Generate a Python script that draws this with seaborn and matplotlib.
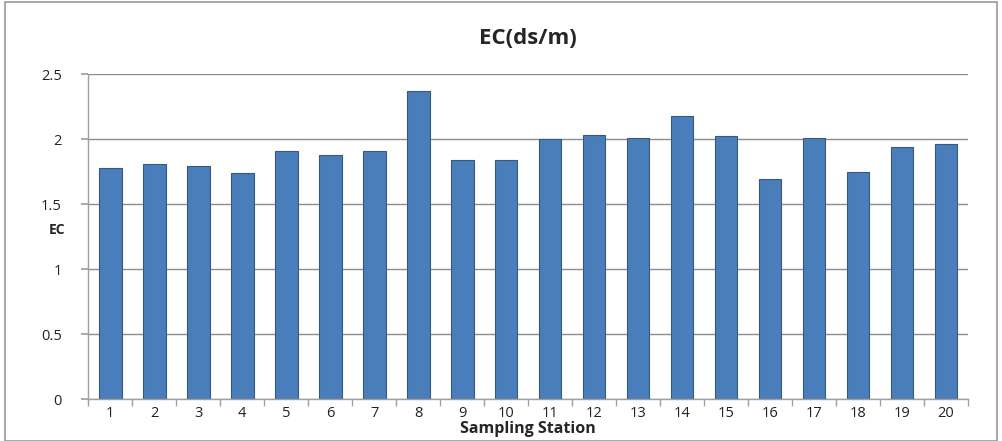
import matplotlib
matplotlib.use("Agg")
import matplotlib.pyplot as plt
import seaborn as sns
import pandas as pd
import numpy as np
from matplotlib.patches import Rectangle

stations = [str(i) for i in range(1, 21)]
ec_values = [1.78, 1.81, 1.79, 1.74, 1.91, 1.88, 1.91, 2.37, 1.84, 1.84,
             2.00, 2.03, 2.01, 2.18, 2.02, 1.69, 2.01, 1.75, 1.94, 1.96]
y_ticks = [0, 0.5, 1, 1.5, 2, 2.5]
y_tick_labels = ["0", "0.5", "1", "1.5", "2", "2.5"]

df = pd.DataFrame({"Sampling Station": stations, "EC": ec_values})

sns.set_theme(style="white")
plt.rcParams['font.family'] = ['Open Sans', 'DejaVu Sans']

fig = plt.figure(figsize=(10.02, 4.41), dpi=100)
ax = fig.add_axes([0.088, 0.095, 0.878, 0.737])

sns.barplot(data=df, x="Sampling Station", y="EC", color="#4a7ebb",
            width=0.52, edgecolor="#35597f", linewidth=0.8, saturation=1, ax=ax)

ax.set_ylim(0, 2.5)
ax.set_xlim(-0.5, 19.5)
ax.set_yticks(y_ticks)
ax.set_yticklabels(y_tick_labels)
ax.yaxis.grid(True, color="#8c8c8c", linewidth=1.0)
ax.set_axisbelow(True)
for s in ["top", "right"]:
    ax.spines[s].set_visible(False)
for s in ["left", "bottom"]:
    ax.spines[s].set_color("#a0a0a0")
    ax.spines[s].set_linewidth(1.0)

ax.tick_params(axis="y", which="major", length=5, color="#a0a0a0", direction="out",
               labelsize=10.5, labelcolor="#222222", pad=14, left=True)
ax.tick_params(axis="x", which="major", length=0, labelsize=10.5, labelcolor="#222222", pad=5)
ax.set_xticks(np.arange(-0.5, 20, 1), minor=True)
ax.tick_params(axis="x", which="minor", length=5, color="#a0a0a0", direction="out", bottom=True)

ax.set_xlabel("Sampling Station", fontsize=11.5, fontweight="bold", labelpad=0)
ax.set_ylabel("EC", fontsize=10, fontweight="bold", rotation=0, labelpad=12)
ax.yaxis.set_label_coords(-0.035, 0.5)
ax.set_title("EC(ds/m)", fontsize=16, fontweight="bold", pad=22)

fig.patches.append(Rectangle((0.005, 0.0), 0.99, 0.995, transform=fig.transFigure,
                             fill=False, edgecolor="#9a9a9a", linewidth=1.2))

fig.savefig("out.png", dpi=100)
